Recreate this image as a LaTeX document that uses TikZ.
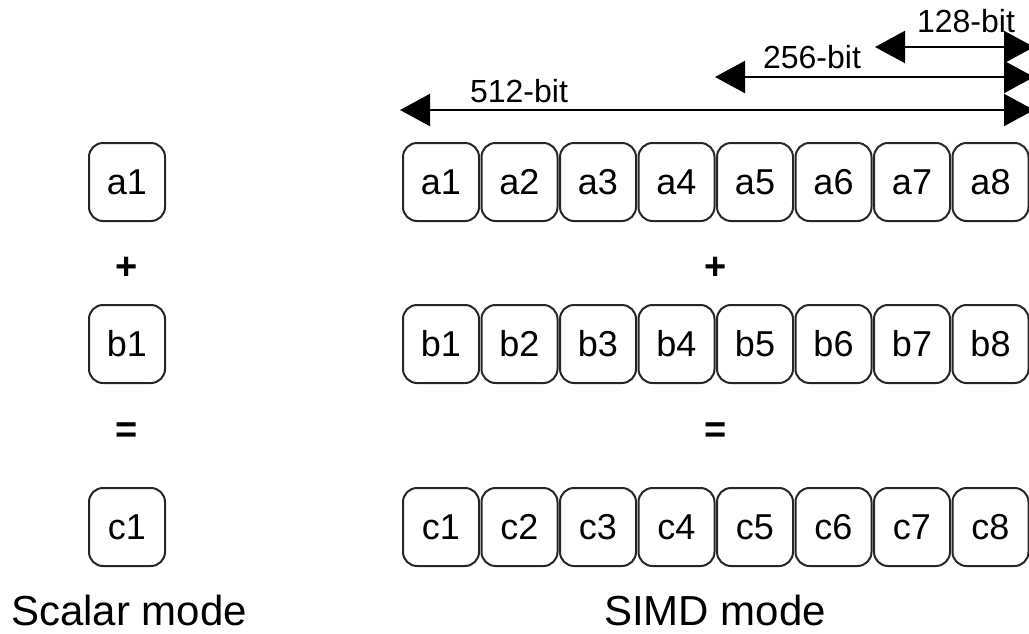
\documentclass[tikz,border=0pt]{standalone}
\usepackage{fontspec}
\setmainfont{Liberation Sans}
\usetikzlibrary{arrows.meta}
\begin{document}
\begin{tikzpicture}[x=0.5pt,y=-0.5pt,
  cell/.style={draw=black!85, line width=1pt, rounded corners=7pt, minimum width=38pt, minimum height=39pt, inner sep=0pt, font=\fontsize{18}{21}\selectfont, fill=white},
  lbl/.style={font=\fontsize{21}{24}\selectfont},
  bitlbl/.style={font=\fontsize{16}{18}\selectfont},
  op/.style={font=\fontsize{19}{22}\selectfont\bfseries},
  dim/.style={line width=1.1pt, {Triangle[length=15pt,width=16pt]}-{Triangle[length=15pt,width=16pt]}}]
\useasboundingbox (0,0) rectangle (1029,633);
% scalar column
\node[cell] (sa) at (127,182) {a1};
\node[op] (splus) at (127,268) {+};
\node[cell] (sb) at (127,344) {b1};
\node[op] (seq) at (127,433) {=};
\node[cell] (sc) at (127,527) {c1};
\node[lbl] (slabel) at (129,610) {Scalar mode};
% SIMD rows
\foreach \i in {1,...,8} {
  \pgfmathsetmacro{\xx}{441+78.5*(\i-1)}
  \node[cell] (a\i) at (\xx,182) {a\i};
  \node[cell] (b\i) at (\xx,344) {b\i};
  \node[cell] (c\i) at (\xx,527) {c\i};
}
\node[op] (vplus) at (716,268) {+};
\node[op] (veq) at (716,433) {=};
\node[lbl] (vlabel) at (715,610) {SIMD mode};
% width arrows
\coordinate (r512) at (1034,110);
\coordinate (l512) at (400,110);
\coordinate (r256) at (1034,77);
\coordinate (l256) at (715,77);
\coordinate (r128) at (1034,47);
\coordinate (l128) at (875,47);
\draw[dim] (l512) -- (r512);
\draw[dim] (l256) -- (r256);
\draw[dim] (l128) -- (r128);
\node[bitlbl] (t512) at (519,91) {512-bit};
\node[bitlbl] (t256) at (812,57) {256-bit};
\node[bitlbl] (t128) at (966,21) {128-bit};
\end{tikzpicture}
\end{document}
